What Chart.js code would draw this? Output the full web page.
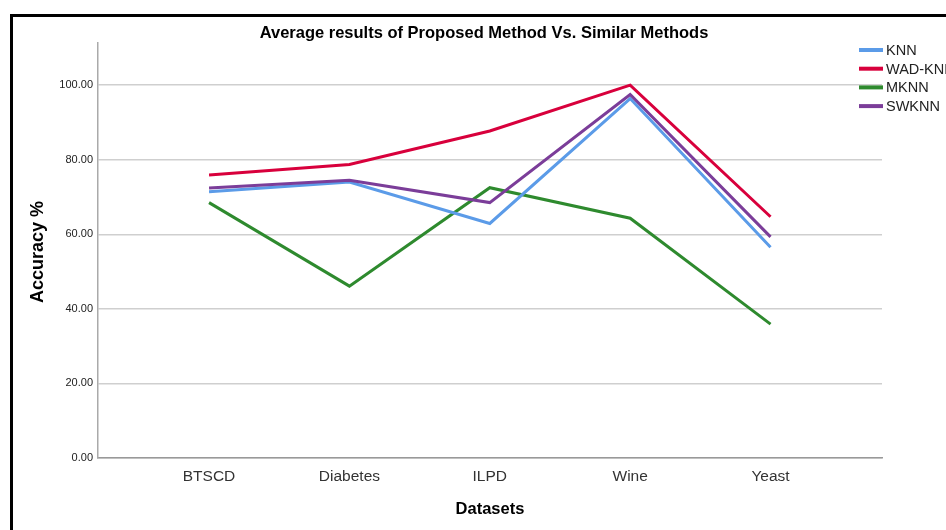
<!DOCTYPE html>
<html><head><meta charset="utf-8">
<script src="https://cdn.jsdelivr.net/npm/chart.js@4.4.0/dist/chart.umd.min.js"></script>
<style>
html,body{margin:0;padding:0;background:#fff;overflow:hidden;}
#wrap{position:relative;width:946px;height:530px;}
#frame{position:absolute;left:10px;top:14px;width:960px;height:540px;border-left:3px solid #000;border-top:3px solid #000;box-sizing:border-box;pointer-events:none;}
canvas{position:absolute;left:0;top:0;}
</style></head>
<body>
<div id="wrap"><canvas id="c" width="946" height="530"></canvas><div id="frame"></div></div>
<script>
const categories = ["BTSCD","Diabetes","ILPD","Wine","Yeast"];
const seriesNames = ["KNN","WAD-KNN","MKNN","SWKNN"];
const knn    = [71.4, 74.0, 62.9, 96.4, 56.5];
const wadKnn = [75.9, 78.7, 87.7, 100.0, 64.7];
const mknn   = [68.5, 46.1, 72.5, 64.3, 35.9];
const swknn  = [72.4, 74.5, 68.5, 97.5, 59.3];
const yTicks = [0,20,40,60,80,100];
const colors = ["#5b9be8","#d8003c","#2e8a2e","#7b3d99"];

const allSeries = [knn, wadKnn, mknn, swknn];
const datasets = allSeries.map((vals,i)=>({
  label: seriesNames[i],
  data: vals.map((v,j)=>({x:j,y:v})),
  borderColor: colors[i],
  backgroundColor: colors[i],
  borderWidth: 3,
  pointRadius: 0,
  tension: 0,
  fill: false
}));
datasets[0].order = 2; datasets[1].order = 4; datasets[2].order = 3; datasets[3].order = 1;

const FONT = "'Liberation Sans', Arial, sans-serif";
const decor = {
  id:'decor',
  afterDraw(chart){
    const ctx = chart.ctx;
    ctx.save();
    ctx.fillStyle = '#000';
    ctx.textAlign = 'center';
    ctx.textBaseline = 'middle';
    ctx.font = "bold 16.5px " + FONT;
    ctx.fillText("Average results of Proposed Method Vs. Similar Methods", 484, 33);
    ctx.font = "bold 16.5px " + FONT;
    ctx.fillText("Datasets", 490, 509);
    ctx.save();
    ctx.translate(38, 252);
    ctx.rotate(-Math.PI/2);
    ctx.font = "bold 18px " + FONT;
    ctx.fillText("Accuracy %", 0, 0);
    ctx.restore();
    ctx.textAlign = 'left';
    ctx.font = "14.5px " + FONT;
    seriesNames.forEach((n,i)=>{
      const y = 50 + i*18.7;
      ctx.strokeStyle = colors[i];
      ctx.lineWidth = 4;
      ctx.beginPath(); ctx.moveTo(859,y); ctx.lineTo(883,y); ctx.stroke();
      ctx.fillStyle = '#222';
      ctx.fillText(n, 886, y+1);
    });
    ctx.restore();
  }
};

new Chart(document.getElementById('c'), {
  type:'line',
  data:{datasets},
  options:{
    responsive:false,
    animation:false,
    layout:{padding:{left:0,right:64,top:43,bottom:0}},
    plugins:{legend:{display:false},tooltip:{enabled:false}},
    scales:{
      x:{
        type:'linear',
        min:-0.791, max:4.794,
        afterBuildTicks(s){ s.ticks = categories.map((c,i)=>({value:i})); },
        afterFit(s){ s.height = 530-458; },
        grid:{display:false},
        border:{display:true,color:'#999',width:1.5},
        ticks:{padding:1,color:'#333',font:{family:FONT,size:15.5},callback:(v)=>categories[v]}
      },
      y:{
        min:0, max:111.3,
        afterBuildTicks(s){ s.ticks = yTicks.map(v=>({value:v})); },
        afterFit(s){ s.width = 98; },
        grid:{color:'#cfcfcf',lineWidth:1.5,drawTicks:false},
        border:{display:true,color:'#aaa',width:1.5},
        ticks:{padding:5,color:'#222',font:{family:FONT,size:11},callback:(v)=>v.toFixed(2)}
      }
    }
  },
  plugins:[decor]
});
</script>
</body></html>
